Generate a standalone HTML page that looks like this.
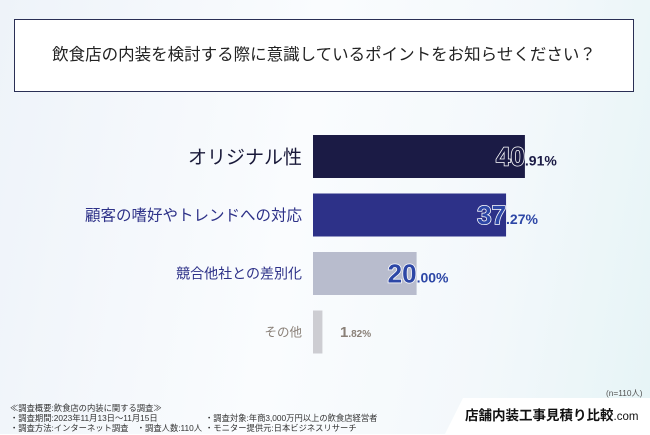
<!DOCTYPE html>
<html><head><meta charset="utf-8"><style>
body{margin:0;width:650px;height:434px;overflow:hidden;font-family:"Liberation Sans","Noto Sans CJK JP",sans-serif;}
#bg{position:absolute;left:0;top:0;width:650px;height:434px;background:linear-gradient(100deg,#eef3f9 0%,#fafcfe 45%,#f3f8fb 75%,#e6f4f6 100%);}
.title{position:absolute;left:14px;top:19px;width:620px;height:73px;background:#fff;border:1px solid #2a2f55;box-sizing:border-box;text-align:center;line-height:71px;font-size:16.5px;color:#222;}
.foot{position:absolute;font-size:8.3px;color:#333;line-height:10px;white-space:nowrap;}
.logo{position:absolute;left:445px;top:398px;width:205px;height:36px;background:#fff;clip-path:polygon(18px 0,100% 0,100% 100%,0 100%);font-size:13.5px;font-weight:bold;color:#111;line-height:36px;padding-left:20px;box-sizing:border-box;white-space:nowrap;}
</style></head><body>
<div id="bg"></div>
<div class="title">飲食店の内装を検討する際に意識しているポイントをお知らせください？</div>
<svg id="chart" width="650" height="434" style="position:absolute;left:0;top:0"></svg>
<div class="foot" style="left:606px;top:388px;color:#555">(n=110人)</div>
<div class="foot" style="left:10px;top:403px">≪調査概要:飲食店の内装に関する調査≫<br>・調査期間:2023年11月13日〜11月15日<br>・調査方法:インターネット調査　・調査人数:110人</div>
<div class="foot" style="left:205px;top:413px">・調査対象:年商3,000万円以上の飲食店経営者<br>・モニター提供元:日本ビジネスリサーチ</div>
<div class="logo">店舗内装工事見積り比較<span style="font-weight:normal;font-size:11.5px">.com</span></div>
<script>
const categories=["オリジナル性","顧客の嗜好やトレンドへの対応","競合他社との差別化","その他"];
const values=[40.91,37.27,20.00,1.82];
const barColors=["#1b1b45","#2d3188","#b8bccd","#cdcdd2"];
const intColors=["#1b1b45","#2d47a6","#2d47a6","#8a8078"];
const labelSizes=[19,15.5,14,12.5];
const labelColors=["#1a1a3a","#2d3188","#2d3188","#8a8078"];
const svg=document.getElementById('chart');
const NS="http://www.w3.org/2000/svg";
const x0=313,pxPer=5.18,y0=135,step=58.5,bh=43;
const xs=v=>x0+v*pxPer;
values.forEach((v,i)=>{
  const y=y0+i*step;
  const r=document.createElementNS(NS,'rect');
  
  
  r.setAttribute('x',x0);r.setAttribute('y',y);r.setAttribute('width',xs(v)-x0);r.setAttribute('height',bh);
  r.setAttribute('fill',barColors[i]);svg.appendChild(r);
  const l=document.createElementNS(NS,'text');
  
  
  l.setAttribute('x',302);l.setAttribute('y',y+bh/2+labelSizes[i]*0.36);
  l.setAttribute('text-anchor','end');l.setAttribute('font-size',labelSizes[i]);l.setAttribute('fill',labelColors[i]);
  l.textContent=categories[i];svg.appendChild(l);
  const s=v.toFixed(2);const ip=s.split('.')[0],dp='.'+s.split('.')[1]+'%';
  const big=i<3;
  const t=document.createElementNS(NS,'text');
  
  
  t.setAttribute('x',big?xs(v):x0+27);t.setAttribute('y',y+bh/2+(big?9:5));
  t.setAttribute('text-anchor',big?'end':'start');t.setAttribute('font-weight','bold');
  const a=document.createElementNS(NS,'tspan');
  a.setAttribute('font-size',big?26:15);a.setAttribute('fill',intColors[i]);
  if(big){a.setAttribute('stroke','#fff');a.setAttribute('stroke-width','1.5');a.setAttribute('paint-order','stroke');}
  a.textContent=ip;
  t.appendChild(a);svg.appendChild(t);
  const d=document.createElementNS(NS,'text');
  
  
  d.setAttribute('font-size',big?14:10);d.setAttribute('font-weight','bold');
  d.setAttribute('fill',i==0?'#1b1b45':(i==3?'#8a8078':'#2d47a6'));
  d.setAttribute('y',y+bh/2+(big?9:5));
  let xe=big?xs(v):x0+27+t.getComputedTextLength();
  d.setAttribute('x',xe);d.textContent=dp;svg.appendChild(d);
});
</script>
</body></html>
